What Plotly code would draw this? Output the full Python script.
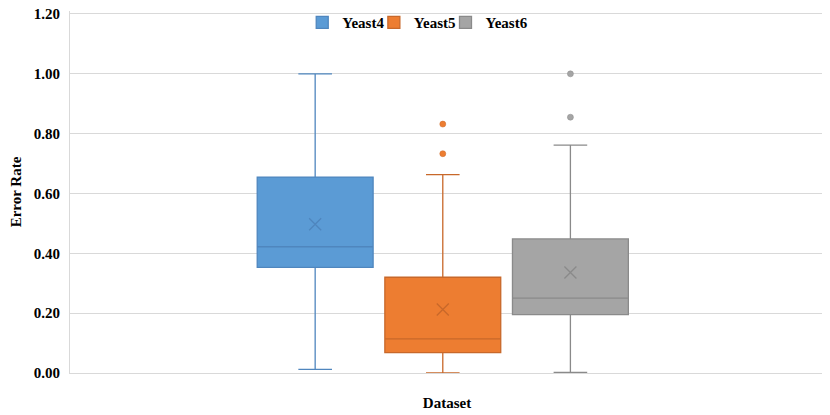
import plotly.graph_objects as go

# ---- data ----
series = ["Yeast4", "Yeast5", "Yeast6"]
positions = [1, 2, 3]
q1_vals = [0.353, 0.068, 0.195]
median_vals = [0.422, 0.114, 0.250]
q3_vals = [0.655, 0.320, 0.448]
lower_whisker = [0.012, 0.000, 0.002]
upper_whisker = [1.000, 0.663, 0.762]
mean_vals = [0.497, 0.212, 0.336]
outliers = [[], [0.733, 0.832], [0.855, 1.000]]
y_ticks = [0.0, 0.2, 0.4, 0.6, 0.8, 1.0, 1.2]
y_tick_labels = ["0.00", "0.20", "0.40", "0.60", "0.80", "1.00", "1.20"]

fill_colors = ["#5B9BD5", "#ED7D31", "#A5A5A5"]
line_colors = ["#4F86BE", "#C8682A", "#8A8A8A"]
legend_ids = ["legend", "legend2", "legend3"]
legend_x = [0.308, 0.403, 0.498]

FONT = "Liberation Serif"

fig = go.Figure()

for i, name in enumerate(series):
    fig.add_trace(go.Box(
        name=name,
        x=[positions[i]],
        q1=[q1_vals[i]],
        median=[median_vals[i]],
        q3=[q3_vals[i]],
        lowerfence=[lower_whisker[i]],
        upperfence=[upper_whisker[i]],
        fillcolor=fill_colors[i],
        line=dict(color=line_colors[i], width=1.3),
        width=0.908,
        whiskerwidth=0.29,
        boxpoints=False,
        showlegend=True,
        legend=legend_ids[i],
    ))

for i, name in enumerate(series):
    fig.add_trace(go.Scatter(
        x=[positions[i]], y=[mean_vals[i]], mode="markers",
        marker=dict(symbol="x-thin", size=12,
                    line=dict(color=line_colors[i], width=1.3)),
        showlegend=False, hoverinfo="skip",
    ))
    if outliers[i]:
        fig.add_trace(go.Scatter(
            x=[positions[i]] * len(outliers[i]), y=outliers[i], mode="markers",
            marker=dict(symbol="circle", size=6, color=fill_colors[i],
                        line=dict(color=line_colors[i], width=0.5)),
            showlegend=False, hoverinfo="skip",
        ))

legend_style = dict(orientation="h", xanchor="left", y=0.968, yanchor="middle",
                    font=dict(family=FONT, size=15, weight="bold"),
                    bgcolor="rgba(0,0,0,0)", itemwidth=30)

fig.update_layout(
    width=822, height=407,
    margin=dict(l=62, r=6, t=3, b=42, autoexpand=False),
    plot_bgcolor="white", paper_bgcolor="white",
    font=dict(family=FONT, size=15, color="#000000"),
    boxmode="overlay",
    legend=dict(x=legend_x[0], **legend_style),
    legend2=dict(x=legend_x[1], **legend_style),
    legend3=dict(x=legend_x[2], **legend_style),
    xaxis=dict(range=[-0.921, 4.987], showticklabels=False, showgrid=False,
               zeroline=False, showline=True, linecolor="#D9D9D9", linewidth=1,
               automargin=False,
               title=dict(text="Dataset", font=dict(family=FONT, size=15, weight="bold"),
                          standoff=24)),
    yaxis=dict(range=[0, 1.21], tickvals=y_ticks, ticktext=y_tick_labels,
               showgrid=True, gridcolor="#D9D9D9", gridwidth=1,
               zeroline=False, showline=True, linecolor="#D9D9D9", linewidth=1,
               ticks="outside", ticklen=6, tickcolor="rgba(0,0,0,0)",
               ticklabeloverflow="allow",
               automargin=False,
               tickfont=dict(family=FONT, size=15, weight="bold"),
               title=dict(text="Error Rate", font=dict(family=FONT, size=15, weight="bold"),
                          standoff=13)),
)

fig.write_html("out.html")
